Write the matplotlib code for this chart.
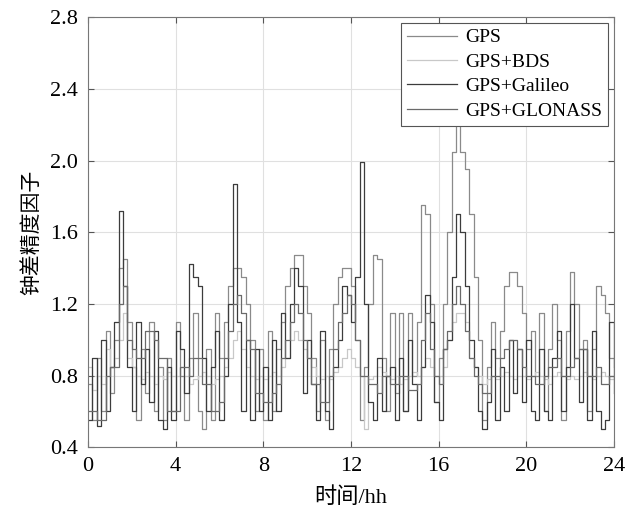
import numpy as np
import matplotlib
matplotlib.use("Agg")
import matplotlib.pyplot as plt

plt.rcParams['font.family'] = ['Liberation Serif', 'Noto Sans CJK SC']

# time axis, hours (0.2 h steps)
hours = np.round(np.arange(0, 24.01, 0.2), 1)

gps = [0.75, 0.55, 0.9, 0.6, 1.05, 0.7, 1.0, 1.4, 1.45, 1.1,
       0.85, 0.55, 0.95, 0.7, 1.1, 0.6, 0.85, 0.55, 0.9, 0.6,
       1.1, 0.8, 0.55, 0.9, 1.15, 0.6, 0.5, 0.95, 0.55, 1.15,
       0.9, 1.1, 1.3, 1.4, 1.4, 1.35, 1.2, 1.0, 0.6, 0.95,
       0.55, 1.05, 0.6, 0.95, 1.1, 1.3, 1.4, 1.47, 1.47, 1.3,
       1.15, 0.9, 0.6, 1.0, 0.55, 0.95, 1.2, 1.35, 1.4, 1.4,
       1.3, 1.0, 0.55, 0.85, 1.2, 1.47, 1.45, 0.9, 0.6, 1.15,
       0.7, 1.15, 0.6, 1.15, 0.8, 1.1, 1.75, 1.7, 1.2, 0.65,
       0.9, 1.2, 1.6, 2.05, 2.2, 2.05, 1.95, 1.7, 1.35, 1.0,
       0.55, 0.85, 1.1, 0.9, 1.05, 1.3, 1.38, 1.38, 1.3, 1.15,
       0.95, 1.05, 0.8, 1.15, 0.6, 0.95, 1.2, 1.0, 0.55, 1.05,
       1.38, 1.2, 0.95, 1.0, 0.6, 0.95, 1.3, 1.25, 1.15, 0.9,
       0.85]

gps_bds = [0.85, 0.72, 0.8, 0.75, 0.95, 0.85, 0.9, 1.0, 1.15, 0.9,
           0.85, 0.8, 0.78, 0.82, 0.8, 0.75, 0.8, 0.78, 0.82, 0.8,
           0.8, 0.85, 0.8, 0.75, 0.78, 0.8, 0.82, 0.8, 0.75, 0.78,
           0.8, 0.85, 0.9, 1.0, 1.05, 0.95, 0.85, 0.8, 0.78, 0.8,
           0.78, 0.8, 0.82, 0.8, 0.85, 0.9, 1.0, 1.05, 1.0, 0.95,
           0.9, 0.85, 0.8, 0.78, 0.8, 0.78, 0.82, 0.85, 0.9, 0.95,
           0.9, 0.85, 0.8, 0.5, 0.78, 0.8, 0.85, 0.82, 0.8, 0.78,
           0.8, 0.75, 0.78, 0.8, 0.82, 0.8, 0.85, 0.9, 0.85, 0.8,
           0.8, 0.85, 1.0, 1.1, 1.15, 1.15, 1.1, 0.9, 0.85, 0.8,
           0.75, 0.78, 0.8, 0.78, 0.8, 0.82, 0.8, 0.78, 0.8, 0.8,
           0.78, 0.8, 0.82, 0.8, 0.78, 0.75, 0.8, 0.82, 0.8, 0.78,
           0.8, 0.78, 0.8, 0.82, 0.8, 0.78, 0.8, 0.82, 0.8, 0.78,
           0.8]

gps_galileo = [0.55, 0.9, 0.52, 1.0, 0.6, 0.85, 1.1, 1.72, 1.3, 0.85,
               0.6, 1.1, 0.75, 0.95, 0.65, 1.05, 0.55, 0.5, 0.85, 0.55,
               1.05, 0.95, 0.7, 1.42, 1.35, 1.3, 0.9, 0.6, 0.85, 1.05,
               0.55, 0.8, 1.2, 1.87, 1.1, 0.6, 1.0, 0.55, 0.95, 0.6,
               0.85, 0.55, 1.0, 0.6, 1.15, 0.9, 1.2, 1.4, 1.3, 0.7,
               1.0, 0.75, 0.55, 1.05, 0.6, 0.5, 0.85, 1.0, 1.3, 1.25,
               1.1, 1.35, 1.99, 1.2, 0.65, 0.55, 0.9, 0.6, 0.8, 0.85,
               0.55, 0.9, 0.6, 1.0, 0.75, 0.55, 0.85, 1.25, 1.1, 0.65,
               0.55, 0.95, 1.0, 1.35, 1.7, 1.6, 1.3, 1.0, 0.85, 0.6,
               0.5, 0.65, 0.95, 0.55, 0.85, 0.6, 1.0, 0.7, 0.95, 0.65,
               1.0, 0.6, 0.55, 0.95, 0.6, 0.55, 0.9, 1.05, 0.6, 0.85,
               1.2, 0.9, 0.65, 0.95, 0.55, 1.05, 0.6, 0.5, 0.55, 1.1,
               0.7]

gps_glonass = [0.6, 0.6, 0.55, 0.55, 0.8, 0.85, 0.85, 1.2, 1.3, 1.0,
               0.95, 0.9, 0.9, 1.05, 1.05, 1.0, 0.9, 0.9, 0.6, 0.6,
               0.6, 0.85, 0.85, 0.8, 0.9, 0.9, 0.75, 0.75, 0.6, 0.6,
               0.65, 0.9, 1.05, 1.2, 1.25, 1.15, 1.0, 0.95, 0.7, 0.7,
               0.65, 0.65, 0.7, 0.75, 0.9, 1.0, 1.1, 1.2, 1.15, 1.0,
               0.9, 0.75, 0.75, 0.65, 0.65, 0.8, 0.95, 1.1, 1.15, 1.25,
               1.2, 1.0, 0.8, 0.8, 0.75, 0.75, 0.7, 0.8, 0.8, 0.75,
               0.75, 0.8, 0.8, 0.72, 0.72, 0.75, 1.0, 1.15, 0.95, 0.8,
               0.75, 0.95, 1.05, 1.2, 1.3, 1.2, 1.05, 0.9, 0.8, 0.75,
               0.7, 0.7, 0.8, 0.8, 0.9, 0.95, 1.0, 1.0, 0.95, 0.85,
               0.8, 0.8, 0.75, 0.75, 0.8, 0.85, 0.85, 0.9, 0.8, 0.8,
               0.85, 0.9, 0.95, 0.95, 0.8, 0.8, 0.85, 0.75, 0.75, 0.8,
               0.8]

labels = ['GPS', 'GPS+BDS', 'GPS+Galileo', 'GPS+GLONASS']
colors = ['#8a8a8a', '#c8c8c8', '#3c3c3c', '#6a6a6a']

fig = plt.figure(figsize=(6.38, 5.2), dpi=100)
ax = fig.add_axes([0.138, 0.140, 0.824, 0.827])

for series, lab, col in zip([gps, gps_bds, gps_galileo, gps_glonass], labels, colors):
    ax.plot(hours, series, drawstyle='steps-post', color=col, lw=0.9, label=lab)

ax.set_xlim(0, 24)
ax.set_ylim(0.4, 2.8)
ax.set_xticks(np.arange(0, 25, 4))
ax.set_yticks(np.arange(0.4, 2.81, 0.4))
ax.set_yticklabels([f'{v:.1f}' for v in np.arange(0.4, 2.81, 0.4)])
ax.grid(True, color='#e0e0e0', lw=0.8)
ax.tick_params(direction='in', top=True, right=True, labelsize=16, color='#555555',
               length=4, pad=7)
for s in ax.spines.values():
    s.set_color('#777777')

ax.set_xlabel('时间/hh', fontsize=16, labelpad=8)
ax.set_ylabel('钟差精度因子', fontsize=15, labelpad=6)

leg = ax.legend(loc='upper right', fontsize=14, fancybox=False, framealpha=1,
                edgecolor='#555555', borderaxespad=0.3, handlelength=2.6,
                labelspacing=0.35, borderpad=0.3, handletextpad=0.4)
leg.get_frame().set_linewidth(0.8)

fig.savefig('out.png', dpi=100)
